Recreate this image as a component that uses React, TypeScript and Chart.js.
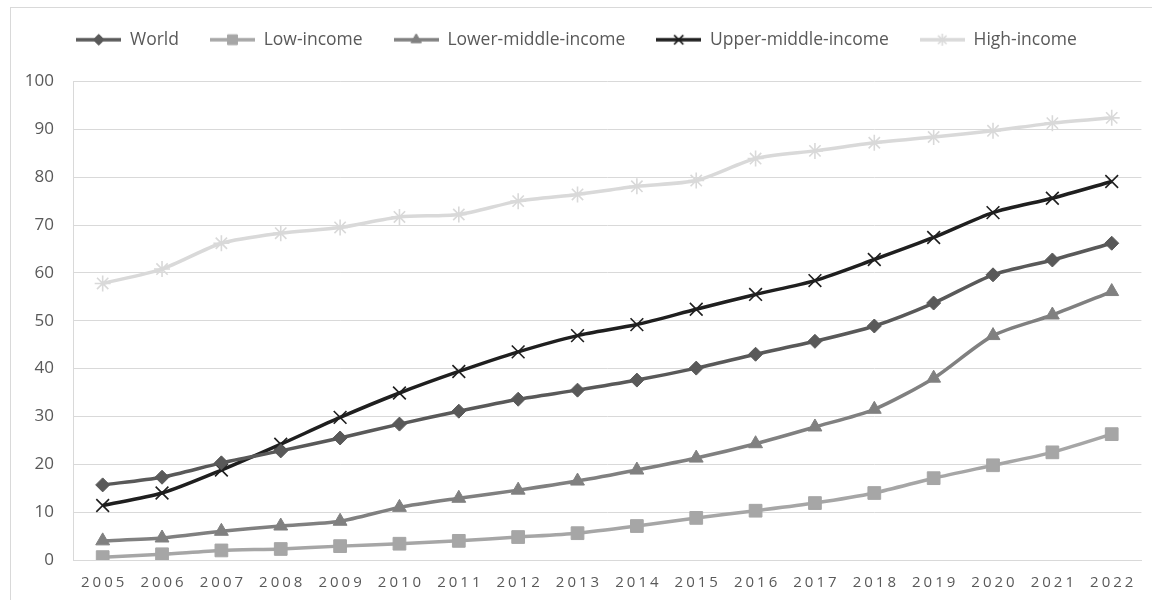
import React, { useEffect, useRef } from 'react';
import { Chart, registerables } from 'chart.js';
import { drawPoint } from 'chart.js/helpers';

Chart.register(...registerables);

const years = ['2005', '2006', '2007', '2008', '2009', '2010', '2011', '2012', '2013', '2014', '2015', '2016', '2017', '2018', '2019', '2020', '2021', '2022'];
const seriesNames = ['World', 'Low-income', 'Lower-middle-income', 'Upper-middle-income', 'High-income'];
const world = [15.7, 17.3, 20.3, 22.8, 25.5, 28.4, 31.1, 33.6, 35.5, 37.6, 40.1, 43.0, 45.7, 48.9, 53.7, 59.6, 62.7, 66.2];
const lowIncome = [0.6, 1.2, 2.0, 2.3, 2.9, 3.4, 4.0, 4.8, 5.6, 7.1, 8.8, 10.3, 11.9, 14.0, 17.1, 19.8, 22.5, 26.3];
const lowerMiddle = [4.0, 4.6, 6.0, 7.1, 8.1, 11.0, 12.9, 14.6, 16.5, 18.8, 21.3, 24.3, 27.8, 31.5, 38.0, 46.9, 51.2, 56.1];
const upperMiddle = [11.4, 14.0, 18.8, 24.2, 29.8, 34.9, 39.4, 43.5, 46.9, 49.2, 52.4, 55.5, 58.4, 62.8, 67.4, 72.6, 75.6, 79.1];
const highIncome = [57.8, 60.8, 66.2, 68.3, 69.5, 71.7, 72.2, 75.0, 76.4, 78.1, 79.3, 83.9, 85.5, 87.2, 88.4, 89.7, 91.3, 92.4];
const yMin = 0;
const yMax = 100;
const yStep = 10;

const seriesValues = [world, lowIncome, lowerMiddle, upperMiddle, highIncome];
const seriesColors = ['#595959', '#a6a6a6', '#808080', '#1f1f1f', '#d9d9d9'];
const seriesMarkers = ['rectRot', 'rect', 'triangle', 'crossRot', 'star'];
const markerRadius = [7, 9, 8, 9, 8];
const markerBorder = [1, 1, 1, 1.6, 1.6];
const legendMarkerRadius = [5.5, 7, 6, 6.5, 6];

function makeLegendIcon(i: number): HTMLCanvasElement {
  const c = document.createElement('canvas');
  c.width = 45;
  c.height = 18;
  const ctx = c.getContext('2d') as CanvasRenderingContext2D;
  ctx.strokeStyle = seriesColors[i];
  ctx.lineWidth = 3.5;
  ctx.beginPath();
  ctx.moveTo(0, 9);
  ctx.lineTo(45, 9);
  ctx.stroke();
  ctx.fillStyle = seriesColors[i];
  ctx.strokeStyle = seriesColors[i];
  ctx.lineWidth = markerBorder[i];
  drawPoint(ctx, { pointStyle: seriesMarkers[i] as any, radius: legendMarkerRadius[i], rotation: 0, borderWidth: markerBorder[i] } as any, 22.5, 9);
  return c;
}

export default function App() {
  const ref = useRef<HTMLCanvasElement | null>(null);

  useEffect(() => {
    if (!ref.current) return;
    const icons = seriesNames.map((_, i) => makeLegendIcon(i));

    const layoutPlugin = {
      id: 'layoutTweaks',
      beforeLayout(chart: any) {
        const lg = chart.legend;
        if (lg && !lg._patched) {
          const f = lg.fit.bind(lg);
          lg.fit = () => {
            f();
            lg.height += 23;
          };
          lg._patched = true;
        }
      },
      beforeDraw(chart: any) {
        const s = chart.scales.x;
        if (s && !s._patched) {
          const orig = s.drawLabels.bind(s);
          s.drawLabels = (ca: any) => {
            const ctx = chart.ctx;
            ctx.save();
            ctx.letterSpacing = '3px';
            ctx.translate(1.5, 0);
            orig(ca);
            ctx.restore();
          };
          s._patched = true;
        }
      },
    };

    const chart = new Chart(ref.current, {
      type: 'line',
      data: {
        labels: years,
        datasets: seriesNames.map((name, i) => ({
          label: name,
          data: seriesValues[i],
          borderColor: seriesColors[i],
          backgroundColor: seriesColors[i],
          borderWidth: 3.5,
          tension: 0.25,
          pointStyle: seriesMarkers[i] as any,
          pointRadius: markerRadius[i],
          pointBorderWidth: markerBorder[i],
          pointBackgroundColor: seriesColors[i],
          pointBorderColor: seriesColors[i],
        })),
      },
      options: {
        responsive: false,
        animation: false,
        devicePixelRatio: 1,
        layout: { padding: { left: 10, right: 9, top: 0, bottom: 0 } },
        plugins: {
          tooltip: { enabled: false },
          legend: {
            position: 'top',
            labels: {
              usePointStyle: true,
              pointStyleWidth: 45,
              padding: 31,
              color: '#595959',
              font: { family: 'Open Sans', size: 17.5 },
              generateLabels: (ch: any) => {
                const items = (Chart.defaults.plugins.legend.labels as any).generateLabels(ch);
                items.forEach((it: any, i: number) => {
                  it.pointStyle = icons[i];
                });
                return items;
              },
            },
          },
        },
        scales: {
          x: {
            offset: true,
            grid: { display: false, drawTicks: false },
            border: { display: true, color: '#d9d9d9', width: 1 },
            ticks: {
              color: '#595959',
              font: { family: 'Open Sans', size: 15 },
              padding: 14,
              maxRotation: 0,
              autoSkip: false,
            },
            afterFit: (s: any) => {
              s.height = 40;
            },
          },
          y: {
            min: yMin,
            max: yMax,
            grid: { color: '#d9d9d9', lineWidth: 1, drawTicks: false },
            border: { display: true, color: '#d9d9d9', width: 1 },
            ticks: {
              stepSize: yStep,
              color: '#595959',
              font: { family: 'Open Sans', size: 17 },
              padding: 19,
            },
            afterFit: (s: any) => {
              s.width = 63;
            },
          },
        },
      },
      plugins: [layoutPlugin],
    });
    return () => chart.destroy();
  }, []);

  return (
    <div style={{ position: 'fixed', left: 0, top: 0, width: 1152, height: 600, overflow: 'hidden', background: '#ffffff' }}>
      <div style={{ position: 'absolute', left: 10, top: 7, width: 1300, height: 800, border: '1px solid #d9d9d9', boxSizing: 'border-box' }} />
      <canvas ref={ref} width={1152} height={600} style={{ position: 'absolute', left: 0, top: 0, width: 1152, height: 600 }} />
    </div>
  );
}
